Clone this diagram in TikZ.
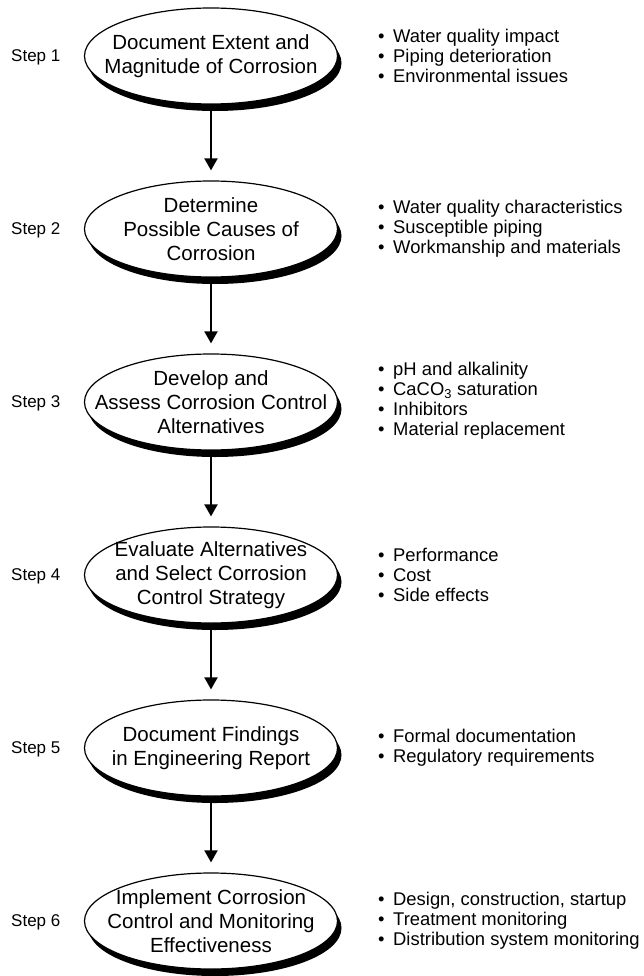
\documentclass[tikz,border=0pt]{standalone}
\usepackage{fontspec}
\setmainfont{Liberation Sans}
\usetikzlibrary{shapes.geometric,arrows.meta,shadows}

% bullet marker followed by a fixed indent
\newcommand\bulletitem{\makebox[15pt][l]{•}}

\begin{document}
\begin{tikzpicture}[x=1pt,y=-1pt,
  stage/.style={ellipse, draw, line width=1.2pt, fill=white,
    minimum width=253pt, minimum height=96pt, inner sep=0pt,
    drop shadow={shadow xshift=4pt, shadow yshift=-7pt, fill=black, opacity=1}},
  stagetext/.style={inner sep=0pt, align=center,
    font=\fontsize{20.5}{24}\selectfont},
  steplabel/.style={anchor=west, inner sep=0pt, font=\fontsize{17}{20}\selectfont},
  notes/.style={anchor=west, inner sep=0pt, align=left,
    font=\fontsize{18.4}{20}\selectfont},
  flow/.style={line width=2pt, -{Triangle[width=13pt,length=12pt]},
    shorten <=6pt, shorten >=10pt}]

\useasboundingbox (0,0) rectangle (643,976);

% stages of the procedure: fixed-size ellipses with their captions on top
\node[stage] (e1) at (211,56)  {};
\node[stage] (e2) at (211,229) {};
\node[stage] (e3) at (211,402) {};
\node[stage] (e4) at (211,575) {};
\node[stage] (e5) at (211,748) {};
\node[stage] (e6) at (211,921) {};

\node[stagetext] (t1) at (e1) {Document Extent and\\Magnitude of Corrosion};
\node[stagetext] (t2) at (e2) {Determine\\Possible Causes of\\Corrosion};
\node[stagetext] (t3) at (e3) {Develop and\\Assess Corrosion Control\\Alternatives};
\node[stagetext] (t4) at (e4) {Evaluate Alternatives\\and Select Corrosion\\Control Strategy};
\node[stagetext] (t5) at (e5) {Document Findings\\in Engineering Report};
\node[stagetext] (t6) at (e6) {Implement Corrosion\\Control and Monitoring\\Effectiveness};

% step numbers
\node[steplabel] (s1) at (11,57)  {Step 1};
\node[steplabel] (s2) at (11,230) {Step 2};
\node[steplabel] (s3) at (11,403) {Step 3};
\node[steplabel] (s4) at (11,576) {Step 4};
\node[steplabel] (s5) at (11,749) {Step 5};
\node[steplabel] (s6) at (11,922) {Step 6};

% considerations for each step
\node[notes] (n1) at (378,56) {\bulletitem Water quality impact\\\bulletitem Piping deterioration\\\bulletitem Environmental issues};
\node[notes] (n2) at (378,229) {\bulletitem Water quality characteristics\\\bulletitem Susceptible piping\\\bulletitem Workmanship and materials};
\node[notes] (n3) at (378,401) {\bulletitem pH and alkalinity\\\bulletitem CaCO\textsubscript{3} saturation\\\bulletitem Inhibitors\\\bulletitem Material replacement};
\node[notes] (n4) at (378,575) {\bulletitem Performance\\\bulletitem Cost\\\bulletitem Side effects};
\node[notes] (n5) at (378,748) {\bulletitem Formal documentation\\\bulletitem Regulatory requirements};
\node[notes] (n6) at (378,921) {\bulletitem Design, construction, startup\\\bulletitem Treatment monitoring\\\bulletitem Distribution system monitoring};

% flow between stages
\draw[flow] (e1.south) -- (e2.north);
\draw[flow] (e2.south) -- (e3.north);
\draw[flow] (e3.south) -- (e4.north);
\draw[flow] (e4.south) -- (e5.north);
\draw[flow] (e5.south) -- (e6.north);
\end{tikzpicture}
\end{document}
